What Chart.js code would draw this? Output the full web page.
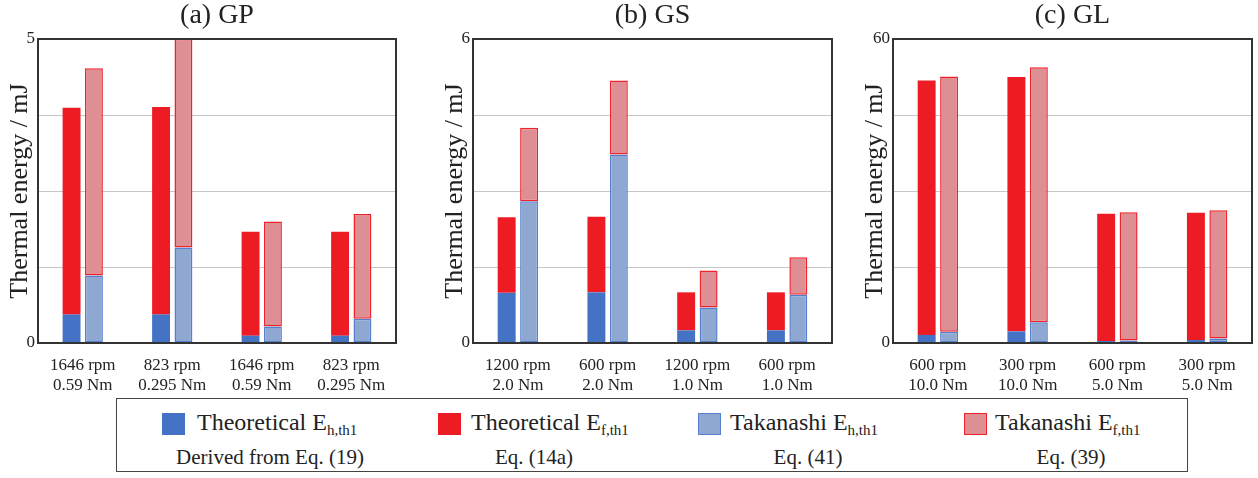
<!DOCTYPE html>
<html>
<head>
<meta charset="utf-8">
<script src="https://cdn.jsdelivr.net/npm/chart.js@4.4.1/dist/chart.umd.min.js"></script>
<style>
  html, body { margin: 0; padding: 0; background: #fff; }
  #wrap { position: relative; width: 1258px; height: 478px; overflow: hidden; font-family: "Liberation Serif", "Times New Roman", serif; color: #222; }
  canvas { position: absolute; top: 0; }
  #legend { position: absolute; left: 116px; top: 398px; width: 1072px; height: 74px; box-sizing: border-box; border: 1.5px solid #444; }
  .sq { position: absolute; top: 14px; width: 23px; height: 22px; box-sizing: border-box; }
  .l1 { position: absolute; top: 8px; font-size: 24px; line-height: 30px; white-space: nowrap; }
  .l1 sub { font-size: 15px; vertical-align: -5px; line-height: 0; }
  .l2 { position: absolute; top: 46px; font-size: 21px; line-height: 24px; white-space: nowrap; transform: translateX(-50%); }
</style>
</head>
<body>
<div id="wrap">
  <canvas id="ca" width="398" height="395" style="left:0px"></canvas>
  <canvas id="cb" width="399" height="395" style="left:435px"></canvas>
  <canvas id="cc" width="399" height="395" style="left:855px"></canvas>
  <div id="legend"></div>
</div>
<script>
// ---- Data ----
const gpCategories = [['1646 rpm','0.59 Nm'],['823 rpm','0.295 Nm'],['1646 rpm','0.59 Nm'],['823 rpm','0.295 Nm']];
const gpTheoH = [0.47, 0.47, 0.12, 0.12];
const gpTheoF = [3.40, 3.41, 1.71, 1.71];
const gpTakH  = [1.11, 1.57, 0.27, 0.40];
const gpTakF  = [3.41, 3.43, 1.73, 1.72];

const gsCategories = [['1200 rpm','2.0 Nm'],['600 rpm','2.0 Nm'],['1200 rpm','1.0 Nm'],['600 rpm','1.0 Nm']];
const gsTheoH = [0.99, 1.00, 0.25, 0.25];
const gsTheoF = [1.49, 1.49, 0.75, 0.75];
const gsTakH  = [2.80, 3.72, 0.70, 0.95];
const gsTakF  = [1.45, 1.46, 0.73, 0.74];

const glCategories = [['600 rpm','10.0 Nm'],['300 rpm','10.0 Nm'],['600 rpm','5.0 Nm'],['300 rpm','5.0 Nm']];
const glTheoH = [1.6, 2.3, 0.4, 0.6];
const glTheoF = [50.2, 50.2, 25.1, 25.1];
const glTakH  = [2.2, 4.1, 0.5, 0.9];
const glTakF  = [50.4, 50.3, 25.3, 25.3];

const panelTitles = ['(a) GP', '(b) GS', '(c) GL'];
const yMaxes = [5, 6, 60];
const yTitle = 'Thermal energy / mJ';
const seriesNames = ['Theoretical E_h,th1', 'Theoretical E_f,th1', 'Takanashi E_h,th1', 'Takanashi E_f,th1'];

// ---- Styles ----
const SERIF = '"Liberation Serif", "Times New Roman", serif';
const C_THEO_H = '#4472C4', C_THEO_F = '#ED1C24';
const C_TAK_H = '#8FA8D2', C_TAK_H_B = '#5580CC';
const C_TAK_F = '#DE8F94', C_TAK_F_B = '#F0232C';

const framePlugin = {
  id: 'frame',
  afterDatasetsDraw(chart) {
    const a = chart.chartArea, ctx = chart.ctx;
    ctx.save();
    ctx.strokeStyle = '#333';
    ctx.lineWidth = 2;
    ctx.strokeRect(a.left, a.top, a.right - a.left, a.bottom - a.top);
    ctx.restore();
  }
};

function makeChart(id, title, cats, th, tf, kh, kf, ymax) {
  const common = { stacked: true };
  return new Chart(document.getElementById(id), {
    type: 'bar',
    data: {
      labels: cats,
      datasets: [
        { label: seriesNames[0], data: th, stack: 'theo', backgroundColor: C_THEO_H, borderWidth: 0 },
        { label: seriesNames[1], data: tf, stack: 'theo', backgroundColor: C_THEO_F, borderWidth: 0 },
        { label: seriesNames[2], data: kh, stack: 'tak', backgroundColor: C_TAK_H, borderColor: C_TAK_H_B, borderWidth: 1.5, borderSkipped: false },
        { label: seriesNames[3], data: kf, stack: 'tak', backgroundColor: C_TAK_F, borderColor: C_TAK_F_B, borderWidth: 1.5, borderSkipped: false }
      ]
    },
    options: {
      responsive: false,
      animation: false,
      devicePixelRatio: 1,
      categoryPercentage: 0.5,
      barPercentage: 0.8,
      layout: { padding: { left: 0, right: 2, top: 0, bottom: 0 } },
      plugins: {
        legend: { display: false },
        tooltip: { enabled: false },
        title: {
          display: true, text: title, fullSize: false, color: '#222',
          font: { family: SERIF, size: 28, weight: 'normal', lineHeight: 1.0 },
          padding: { top: 2, bottom: 9 }
        }
      },
      scales: {
        x: {
          stacked: true,
          grid: { display: false },
          border: { display: false },
          ticks: { color: '#222', maxRotation: 0, autoSkip: false, padding: 5,
                   font: { family: SERIF, size: 17, lineHeight: 1.15 } },
          afterFit(s) { s.height = 52; }
        },
        y: {
          stacked: true, min: 0, max: ymax,
          grid: { color: '#c8c8c8', lineWidth: 1, drawTicks: false },
          border: { display: false },
          ticks: { stepSize: ymax / 4, color: '#222', padding: 3,
                   font: { family: SERIF, size: 17 },
                   callback(v) { return (v === 0 || v === ymax) ? String(v) : ''; } },
          title: { display: true, text: yTitle, color: '#222', padding: { top: 5, bottom: 0 },
                   font: { family: SERIF, size: 26, lineHeight: 1.2 } },
          afterFit(s) { s.width = 38; }
        }
      }
    },
    plugins: [framePlugin]
  });
}

makeChart('ca', panelTitles[0], gpCategories, gpTheoH, gpTheoF, gpTakH, gpTakF, yMaxes[0]);
makeChart('cb', panelTitles[1], gsCategories, gsTheoH, gsTheoF, gsTakH, gsTakF, yMaxes[1]);
makeChart('cc', panelTitles[2], glCategories, glTheoH, glTheoF, glTakH, glTakF, yMaxes[2]);

// ---- Legend (HTML text) ----
const legendItems = [
  { sq: 45,  tx: 80,  c2: 153, fill: C_THEO_H, border: null, main: 'Theoretical E', sub: 'h,th1', eq: 'Derived from Eq. (19)' },
  { sq: 321, tx: 354, c2: 417, fill: C_THEO_F, border: null, main: 'Theoretical E', sub: 'f,th1', eq: 'Eq. (14a)' },
  { sq: 581, tx: 613, c2: 691, fill: C_TAK_H, border: C_TAK_H_B, main: 'Takanashi E', sub: 'h,th1', eq: 'Eq. (41)' },
  { sq: 847, tx: 878, c2: 954, fill: C_TAK_F, border: C_TAK_F_B, main: 'Takanashi E', sub: 'f,th1', eq: 'Eq. (39)' }
];
const lg = document.getElementById('legend');
legendItems.forEach(it => {
  const s = document.createElement('div');
  s.className = 'sq';
  s.style.left = it.sq + 'px';
  s.style.background = it.fill;
  if (it.border) s.style.border = '1.5px solid ' + it.border;
  lg.appendChild(s);
  const t = document.createElement('div');
  t.className = 'l1';
  t.style.left = it.tx + 'px';
  t.appendChild(document.createTextNode(it.main));
  const sb = document.createElement('sub');
  sb.textContent = it.sub;
  t.appendChild(sb);
  lg.appendChild(t);
  const e = document.createElement('div');
  e.className = 'l2';
  e.style.left = it.c2 + 'px';
  e.textContent = it.eq;
  lg.appendChild(e);
});
</script>
</body>
</html>
